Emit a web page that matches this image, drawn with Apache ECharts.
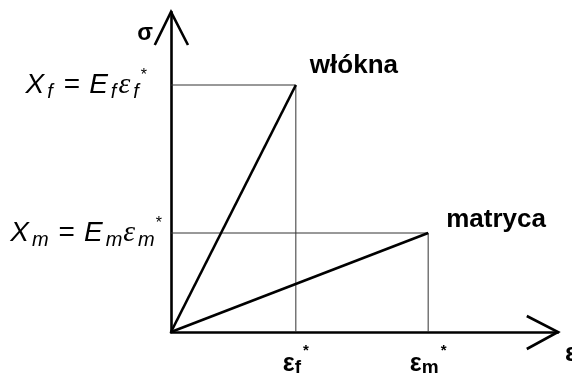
<!DOCTYPE html>
<html>
<head>
<meta charset="utf-8">
<script src="https://cdn.jsdelivr.net/npm/echarts@6/dist/echarts.min.js"></script>
<style>
  html, body { margin: 0; padding: 0; background: #fff; }
  #chart { width: 572px; height: 376px; }
</style>
</head>
<body>
<div id="chart"></div>
<script>
// Failure strains of fibre and matrix (ε_f*, ε_m*), arbitrary strain units
const failStrain = [1.0, 2.06];
// Failure stresses X_f = E_f ε_f*, X_m = E_m ε_m*, arbitrary stress units
const failStress = [2.47, 0.99];
// Names of the two constituents
const seriesNames = ['włókna', 'matryca'];
// Tick labels on the strain axis (same order as failStrain)
const strainTicks = ['{e|ε}{sub|f}{sup|*}', '{e|ε}{sub|m}{sup|*}'];
// Tick labels on the stress axis (same order as failStress)
const stressTicks = [
  '{x|X}{sf|f}{eq|=}{x|E}{sf|f}{ep|ε}{sf|f}{st|*}{gap| }',
  '{x|X}{sm|m}{eq|=}{x|E}{sm|m}{ep|ε}{sm|m}{st|*}'
];
// Axis extents
const strainMax = 3.1;
const stressMax = 3.2;
// Open arrowheads at the ends of both axes
const strainArrow = [[2.85, 0.16], [strainMax, 0], [2.85, -0.17]];
const stressArrow = [[-0.13, 2.87], [0, stressMax], [0.136, 2.87]];

const thick = { color: '#000', width: 2.6 };
const thin = { color: '#333', width: 1 };
const labelFont = 'Liberation Sans, Arial, sans-serif';

const chart = echarts.init(document.getElementById('chart'), null, { renderer: 'canvas' });

function lineSeries(data, style, extra) {
  return Object.assign({
    type: 'line',
    data: data,
    showSymbol: false,
    symbol: 'none',
    clip: false,
    silent: true,
    lineStyle: style,
    z: 3
  }, extra || {});
}

// Open chevron drawn through the axis scales
function arrowSeries(points) {
  return {
    type: 'custom',
    silent: true,
    clip: false,
    z: 4,
    data: [[0, 0]],
    renderItem: function (params, api) {
      return {
        type: 'polyline',
        shape: { points: points.map(function (p) { return api.coord(p); }) },
        style: { stroke: thick.color, lineWidth: thick.width, fill: null, lineJoin: 'miter' }
      };
    }
  };
}

const subBase = { fontFamily: labelFont, fontStyle: 'italic', fontSize: 20, color: '#000', lineHeight: 34, verticalAlign: 'bottom' };

const option = {
  animation: false,
  backgroundColor: '#fff',
  grid: { left: 171, right: 14, top: 12, bottom: 44, outerBoundsMode: 'none', containLabel: false },
  xAxis: {
    type: 'value',
    min: 0,
    max: strainMax,
    name: 'ε',
    nameLocation: 'end',
    nameGap: 7,
    nameTextStyle: {
      fontFamily: labelFont, fontWeight: 'bold', fontSize: 26, color: '#000',
      align: 'left', verticalAlign: 'top', padding: [9, 0, 0, 0]
    },
    axisLine: { show: true, onZero: false, lineStyle: thick },
    axisTick: { show: false },
    splitLine: { show: false },
    axisLabel: {
      show: true,
      customValues: failStrain,
      margin: 11,
      formatter: function (v) {
        const i = failStrain.indexOf(v);
        return i >= 0 ? strainTicks[i] : '';
      },
      rich: {
        e: { fontFamily: labelFont, fontWeight: 'bold', fontSize: 25, color: '#000', lineHeight: 34, verticalAlign: 'bottom' },
        sub: { fontFamily: labelFont, fontWeight: 'bold', fontSize: 19, color: '#000', lineHeight: 34, verticalAlign: 'bottom' },
        sup: { fontFamily: labelFont, fontWeight: 'bold', fontSize: 15, color: '#000', lineHeight: 34, verticalAlign: 'top', padding: [0, 0, 0, 2] }
      }
    }
  },
  yAxis: {
    type: 'value',
    min: 0,
    max: stressMax,
    name: 'σ',
    nameLocation: 'end',
    nameGap: -22,
    nameTextStyle: {
      fontFamily: labelFont, fontWeight: 'bold', fontSize: 23, color: '#000',
      align: 'right', verticalAlign: 'middle', padding: [0, 18, 0, 0]
    },
    axisLine: { show: true, onZero: false, lineStyle: thick },
    axisTick: { show: false },
    splitLine: { show: false },
    axisLabel: {
      show: true,
      customValues: failStress,
      margin: 9,
      formatter: function (v) {
        const i = failStress.indexOf(v);
        return i >= 0 ? stressTicks[i] : '';
      },
      rich: {
        x: { fontFamily: labelFont, fontStyle: 'italic', fontSize: 28, color: '#000', lineHeight: 34, verticalAlign: 'middle' },
        sf: Object.assign({}, subBase, { padding: [0, 2, 0, 3] }),
        sm: Object.assign({}, subBase, { padding: [0, 1, 0, 3] }),
        eq: { fontFamily: labelFont, fontSize: 28, color: '#000', lineHeight: 34, verticalAlign: 'middle', padding: [0, 9, 0, 9] },
        ep: { fontFamily: 'Liberation Serif, serif', fontStyle: 'italic', fontSize: 30, color: '#000', lineHeight: 34, verticalAlign: 'middle' },
        st: { fontFamily: labelFont, fontSize: 16, color: '#000', lineHeight: 34, verticalAlign: 'top' },
        gap: { fontSize: 10, width: 15 }
      }
    }
  },
  series: [
    // thin guide lines from each failure point to both axes
    lineSeries([[0, failStress[0]], [failStrain[0], failStress[0]], [failStrain[0], 0]], thin, { z: 2 }),
    lineSeries([[0, failStress[1]], [failStrain[1], failStress[1]], [failStrain[1], 0]], thin, { z: 2 }),
    // stress–strain lines of fibre and matrix
    lineSeries([[0, 0], [failStrain[0], failStress[0]]], thick, {
      name: seriesNames[0],
      endLabel: {
        show: true,
        formatter: seriesNames[0],
        fontFamily: labelFont, fontWeight: 'bold', fontSize: 26, color: '#000',
        distance: 14,
        offset: [0, -19]
      }
    }),
    lineSeries([[0, 0], [failStrain[1], failStress[1]]], thick, {
      name: seriesNames[1],
      endLabel: {
        show: true,
        formatter: seriesNames[1],
        fontFamily: labelFont, fontWeight: 'bold', fontSize: 26, color: '#000',
        distance: 18,
        offset: [0, -13]
      }
    }),
    // axis arrowheads
    arrowSeries(strainArrow),
    arrowSeries(stressArrow)
  ]
};

chart.setOption(option);
</script>
</body>
</html>
